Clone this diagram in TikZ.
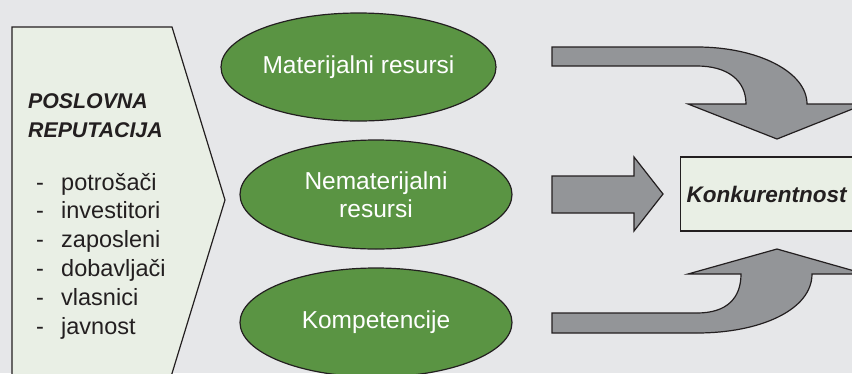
\documentclass[tikz,border=0pt]{standalone}
\usepackage{fontspec}
\setmainfont{Liberation Sans}
\usetikzlibrary{shapes.geometric}
\definecolor{bgray}{HTML}{E6E7E9}
\definecolor{paper}{HTML}{E9EFE5}
\definecolor{leaf}{HTML}{5A9443}
\definecolor{steel}{HTML}{939598}
\definecolor{ink}{HTML}{231F20}
\tikzset{
  outline/.style={draw=ink, line width=1.2pt, line join=miter},
  panel/.style={outline, fill=paper},
  blockarrow/.style={outline, fill=steel},
  resource/.style={ellipse, outline, fill=leaf, inner sep=0pt, text=white,
    font=\fontsize{24.5}{28}\selectfont, align=center},
  heading/.style={anchor=base west, inner sep=0pt,
    font=\fontsize{21.3}{25}\selectfont\bfseries\itshape, text=ink},
  item/.style={anchor=base west, inner sep=0pt,
    font=\fontsize{23.5}{28}\selectfont, text=ink},
}
\begin{document}
\begin{tikzpicture}[x=1pt, y=-1pt]
\useasboundingbox (0,0) rectangle (852,373);
\clip (0,0) rectangle (852,373);
\fill[bgray] (0,0) rectangle (852,373);

% reputation panel (arrow-shaped)
\draw[panel] (12,27) -- (172,27) -- (225,200) -- (170,380) -- (12,380) -- cycle;
\node[heading] (t1) at (28,108) {POSLOVNA};
\node[heading] (t2) at (28,137) {REPUTACIJA};
\foreach \name/\txt [count=\i from 0] in
  {p1/potrošači, p2/investitori, p3/zaposleni, p4/dobavljači, p5/vlasnici, p6/javnost}{
  \node[item] (d\name) at (36,190+28.8*\i) {-};
  \node[item] (\name) at (61,190+28.8*\i) {\txt};
}

% resources
\node[resource, minimum width=275, minimum height=108] (mat) at (358.5,67) {Materijalni resursi};
\node[resource, minimum width=272, minimum height=109] (nemat) at (376,194.5) {Nematerijalni\\resursi};
\node[resource, minimum width=272, minimum height=109] (komp) at (376,322.5) {Kompetencije};

% block arrows towards competitiveness
\draw[blockarrow] (552,47) -- (697,47) .. controls (758,47) and (807,72) .. (807,104)
  -- (865,104) -- (777,139) -- (688,104) -- (746,104)
  .. controls (746,80) and (727,66) .. (697,66) -- (552,66) -- cycle;
\draw[blockarrow] (552,176) -- (634,176) -- (634,157) -- (663,194) -- (634,231)
  -- (634,213) -- (552,213) -- cycle;
\draw[blockarrow] (552,313) -- (697,313) .. controls (727,313) and (741,298) .. (741,274)
  -- (688,274) -- (777,249) -- (865,274) -- (812,274)
  .. controls (812,310) and (760,333) .. (697,333) -- (552,333) -- cycle;

% result
\node[panel, anchor=west, minimum height=74, text width=200, inner sep=0pt, align=left,
  font=\fontsize{22.5}{27}\selectfont\bfseries\itshape, text=ink] (konk) at (680,194)
  {\hspace*{6pt}Konkurentnost};
\end{tikzpicture}
\end{document}
